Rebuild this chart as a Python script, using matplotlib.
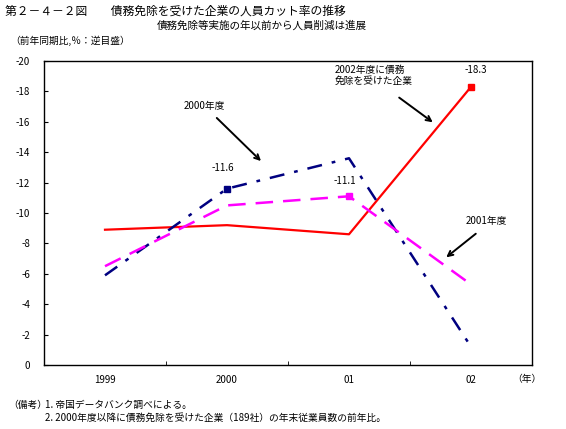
import numpy as np
import matplotlib
matplotlib.use('Agg')
import matplotlib.pyplot as plt

plt.rcParams['font.family'] = ['Noto Sans CJK JP', 'DejaVu Sans']

# data (reversed scale, %)
years = ['1999', '2000', '01', '02']
fy2000 = [-5.9, -11.6, -13.6, -1.2]
fy2001 = [-6.5, -10.5, -11.1, -5.3]
fy2002 = [-8.9, -9.2, -8.6, -18.3]

W, H = 566, 429
fig = plt.figure(figsize=(W / 100, H / 100), dpi=100)
ax = fig.add_axes([44 / W, 1 - 365 / H, 488 / W, 304 / H])

x = np.arange(len(years))
ax.plot(x, fy2002, color='#ff0000', lw=1.6)
ax.plot(x, fy2000, color='#000080', lw=1.8, linestyle=(0, (6, 4, 1.5, 4)))
ax.plot(x, fy2001, color='#ff00ff', lw=1.8, linestyle=(0, (7, 4)))

# marked points
ax.plot(x[1], fy2000[1], 's', color='#000080', ms=5)
ax.plot(x[2], fy2001[2], 's', color='#ff00ff', ms=5)
ax.plot(x[3], fy2002[3], 's', color='#ff0000', ms=5)

fs = 7
ax.text(0.967, -12.96, '-11.6', ha='center', va='center', fontsize=fs)
ax.text(1.967, -12.11, '-11.1', ha='center', va='center', fontsize=fs)
ax.text(3.041, -19.41, '-18.3', ha='center', va='center', fontsize=fs)

# annotations
ax.text(0.811, -17.04, '2000年度', ha='center', va='center', fontsize=fs)
ax.annotate('', xy=(1.295, -13.29), xytext=(0.90, -16.38),
            arrowprops=dict(arrowstyle='->', color='black', lw=1.4, mutation_scale=9))
ax.text(1.885, -19.05, '2002年度に債務\n免除を受けた企業', ha='left', va='center',
        fontsize=fs, linespacing=1.25)
ax.annotate('', xy=(2.705, -15.86), xytext=(2.393, -17.70),
            arrowprops=dict(arrowstyle='->', color='black', lw=1.4, mutation_scale=9))
ax.text(3.123, -9.47, '2001年度', ha='center', va='center', fontsize=fs)
ax.annotate('', xy=(2.779, -6.97), xytext=(3.057, -8.75),
            arrowprops=dict(arrowstyle='->', color='black', lw=1.4, mutation_scale=9))

ax.set_xlim(-0.5, 3.5)
ax.set_ylim(0, -20)
ax.set_yticks(np.arange(0, -21, -2))
ax.set_yticklabels([str(v) for v in range(0, -21, -2)], fontsize=fs)
ax.set_xticks(x)
ax.set_xticklabels(years, fontsize=fs)
ax.set_xticks([0.5, 1.5, 2.5], minor=True)
ax.tick_params(axis='x', which='major', length=0, pad=7)
ax.tick_params(axis='x', which='minor', direction='in', length=3)
ax.tick_params(axis='y', direction='in', length=3, pad=10)
for s in ax.spines.values():
    s.set_linewidth(1.0)

# titles and notes
fig.text(5 / W, 1 - 11 / H, '第２－４－２図　　債務免除を受けた企業の人員カット率の推移',
         fontsize=8.5, va='center')
fig.text(157 / W, 1 - 25 / H, '債務免除等実施の年以前から人員削減は進展',
         fontsize=7.6, va='center')
fig.text(10 / W, 1 - 41 / H, '（前年同期比,％：逆目盛）', fontsize=fs, va='center')
fig.text(527 / W, 1 - 379 / H, '（年）', fontsize=fs, va='center', ha='center')
fig.text(8 / W, 1 - 405 / H, '（備考）', fontsize=fs, va='center')
fig.text(45 / W, 1 - 405 / H, '1. 帝国データバンク調べによる。', fontsize=fs, va='center')
fig.text(45 / W, 1 - 418 / H, '2. 2000年度以降に債務免除を受けた企業（189社）の年末従業員数の前年比。',
         fontsize=fs, va='center')

fig.savefig('out.png', dpi=100)
